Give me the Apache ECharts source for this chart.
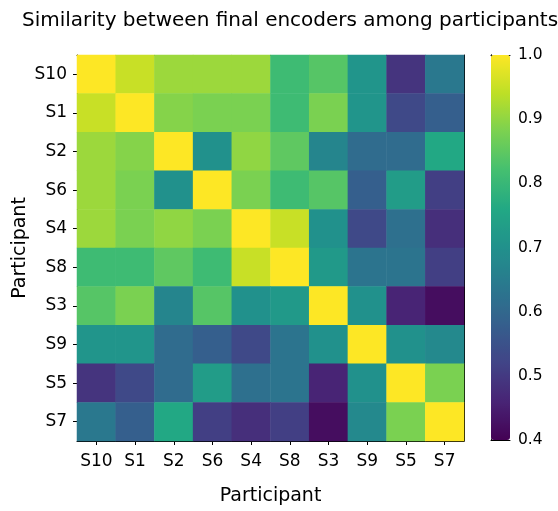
<!DOCTYPE html>
<html><head><meta charset="utf-8">
<script src="https://cdn.jsdelivr.net/npm/echarts@6/dist/echarts.min.js"></script>
<style>html,body{margin:0;padding:0;background:#fff}#c{width:558px;height:511px}</style>
</head><body><div id="c"></div>
<script>
const participants = ["S10","S1","S2","S6","S4","S8","S3","S9","S5","S7"];
const rowS10 = [1.00,0.95,0.91,0.91,0.91,0.81,0.84,0.71,0.49,0.64];
const rowS1  = [0.95,1.00,0.89,0.88,0.88,0.81,0.88,0.71,0.53,0.58];
const rowS2  = [0.91,0.89,1.00,0.70,0.90,0.85,0.67,0.61,0.61,0.76];
const rowS6  = [0.91,0.88,0.70,1.00,0.88,0.81,0.84,0.58,0.73,0.51];
const rowS4  = [0.91,0.88,0.90,0.88,1.00,0.95,0.70,0.53,0.62,0.48];
const rowS8  = [0.81,0.81,0.85,0.81,0.95,1.00,0.72,0.63,0.63,0.51];
const rowS3  = [0.84,0.88,0.67,0.84,0.70,0.72,1.00,0.70,0.46,0.42];
const rowS9  = [0.71,0.71,0.61,0.58,0.53,0.63,0.70,1.00,0.70,0.68];
const rowS5  = [0.49,0.53,0.61,0.73,0.62,0.63,0.46,0.70,1.00,0.88];
const rowS7  = [0.64,0.58,0.76,0.51,0.48,0.51,0.42,0.68,0.88,1.00];
const colorbarTicks = [0.4,0.5,0.6,0.7,0.8,0.9,1.0];
const vmin = 0.4, vmax = 1.0;

const rows = [rowS10,rowS1,rowS2,rowS6,rowS4,rowS8,rowS3,rowS9,rowS5,rowS7];
const data = [];
rows.forEach((r,i)=>r.forEach((v,j)=>data.push([j,i,v])));

const viridis = ['#440154','#482475','#414487','#355f8d','#2a788e','#21918c','#22a884','#44bf70','#7ad151','#bddf26','#fde725'];
const FONT = 'DejaVu Sans';
const G = {left:77, top:55, width:387, height:386};
const CB = {left:491, top:55, width:19, height:385};
const line = {show:true, lineStyle:{color:'#000', width:1}};

const chart = echarts.init(document.getElementById('c'), null, {renderer:'canvas'});
chart.setOption({
  animation:false,
  backgroundColor:'#fff',
  textStyle:{fontFamily:FONT},
  title:{text:'Similarity between final encoders among participants', left:285, textAlign:'center', top:6,
    textStyle:{fontFamily:FONT, fontSize:20, fontWeight:'normal', color:'#000'}},
  grid:[
    {left:G.left, top:G.top, width:G.width, height:G.height, containLabel:false},
    {left:CB.left, top:CB.top, width:CB.width, height:CB.height, containLabel:false}
  ],
  xAxis:[
    {type:'category', gridIndex:0, data:participants, position:'bottom',
     name:'Participant', nameLocation:'middle', nameGap:46, nameMoveOverlap:false,
     nameTextStyle:{fontFamily:FONT, fontSize:19, color:'#000'},
     axisLine:line,
     axisTick:{show:true, alignWithLabel:true, interval:0, length:4, lineStyle:{color:'#000'}},
     axisLabel:{fontFamily:FONT, fontSize:17, color:'#000', margin:12, interval:0, hideOverlap:false},
     splitLine:{show:false}},
    {type:'category', gridIndex:0, data:participants, position:'top',
     axisLine:line, axisTick:{show:false}, axisLabel:{show:false}},
    {type:'value', gridIndex:1, min:0, max:1, position:'bottom',
     axisLine:line, axisTick:{show:false}, axisLabel:{show:false}, splitLine:{show:false}},
    {type:'value', gridIndex:1, min:0, max:1, position:'top',
     axisLine:line, axisTick:{show:false}, axisLabel:{show:false}, splitLine:{show:false}}
  ],
  yAxis:[
    {type:'category', gridIndex:0, data:participants, inverse:true, position:'left',
     name:'Participant', nameLocation:'middle', nameGap:47, nameRotate:90, nameMoveOverlap:false,
     nameTextStyle:{fontFamily:FONT, fontSize:19, color:'#000'},
     axisLine:line,
     axisTick:{show:true, alignWithLabel:true, interval:0, length:4, lineStyle:{color:'#000'}},
     axisLabel:{fontFamily:FONT, fontSize:17, color:'#000', margin:10, interval:0, hideOverlap:false},
     splitLine:{show:false}},
    {type:'category', gridIndex:0, data:participants, inverse:true, position:'right',
     axisLine:line, axisTick:{show:false}, axisLabel:{show:false}},
    {type:'value', gridIndex:1, min:vmin, max:vmax, interval:0.1, position:'right',
     axisLine:line,
     axisTick:{show:true, length:4, lineStyle:{color:'#000'}},
     axisLabel:{fontFamily:FONT, fontSize:15.5, color:'#000', margin:8, formatter:v=>v.toFixed(1)},
     splitLine:{show:false}},
    {type:'value', gridIndex:1, min:vmin, max:vmax, position:'left',
     axisLine:line, axisTick:{show:false}, axisLabel:{show:false}, splitLine:{show:false}}
  ],
  visualMap:{type:'continuous', min:vmin, max:vmax, calculable:false, orient:'vertical',
    left:CB.left, top:CB.top, itemWidth:CB.width, itemHeight:CB.height, padding:0,
    text:null, showLabel:false, inRange:{color:viridis}, seriesIndex:0},
  series:[
    {type:'heatmap', xAxisIndex:0, yAxisIndex:0, data:data, itemStyle:{borderWidth:0}, emphasis:{disabled:true}, progressive:0}
  ]
});
</script></body></html>
